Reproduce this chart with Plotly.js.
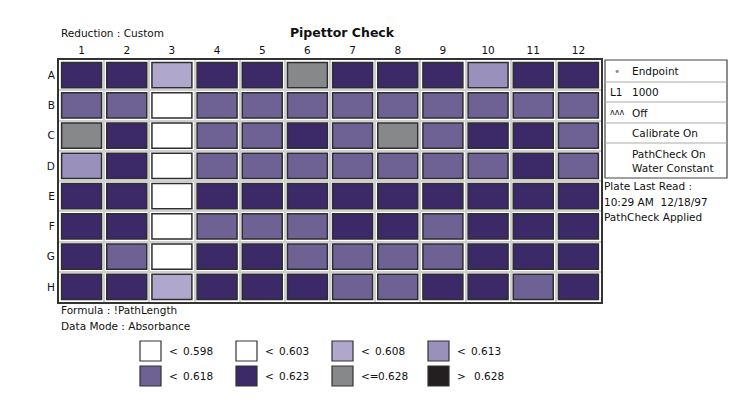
<!DOCTYPE html>
<html>
<head>
<meta charset="utf-8">
<script src="https://cdn.plot.ly/plotly-3.0.1.min.js"></script>
<style>html,body{margin:0;padding:0;background:#fff;}#chart{width:750px;height:400px;}</style>
</head>
<body>
<div id="chart"></div>
<script>
// ---- data (absorbance per well, estimated from colour bins) ----
var columns = ['1','2','3','4','5','6','7','8','9','10','11','12'];
var rows = ['A','B','C','D','E','F','G','H'];
var rowA = [0.620,0.620,0.606,0.620,0.620,0.625,0.620,0.620,0.620,0.611,0.620,0.620];
var rowB = [0.616,0.616,0.600,0.616,0.616,0.616,0.616,0.616,0.616,0.616,0.616,0.616];
var rowC = [0.625,0.620,0.600,0.616,0.616,0.620,0.616,0.625,0.616,0.620,0.620,0.616];
var rowD = [0.611,0.620,0.600,0.616,0.616,0.616,0.616,0.616,0.616,0.616,0.620,0.616];
var rowE = [0.620,0.620,0.600,0.620,0.620,0.620,0.620,0.620,0.620,0.620,0.620,0.620];
var rowF = [0.620,0.620,0.600,0.616,0.616,0.616,0.620,0.620,0.616,0.620,0.620,0.620];
var rowG = [0.620,0.616,0.600,0.620,0.620,0.616,0.616,0.616,0.616,0.620,0.620,0.620];
var rowH = [0.620,0.620,0.606,0.620,0.620,0.620,0.616,0.616,0.620,0.620,0.616,0.620];
var legendOps = ['<','<','<','<','<','<','<=','>'];
var legendVals = ['0.598','0.603','0.608','0.613','0.618','0.623','0.628','0.628'];
var thresholds = [0.598,0.603,0.608,0.613,0.618,0.623,0.628];
var binColors = ['#ffffff','#ffffff','#b0a8cc','#9a90bc','#6e6194','#3c2a68','#87888a','#231f20'];
var infoLines = ['Endpoint','1000','Off','Calibrate On','PathCheck On<br>Water Constant'];
var infoPrefix = ['•','L1','ʌʌʌ','',''];
var plateRead = ['Plate Last Read :','10:29 AM  12/18/97','PathCheck Applied'];

function colorFor(v){
  for (var i=0;i<6;i++){ if (v < thresholds[i]) return binColors[i]; }
  if (v <= thresholds[6]) return binColors[6];
  return binColors[7];
}

var W=750,H=400, ml=59, mr=149, mt=60, mb=98;
var pw=W-ml-mr, ph=H-mt-mb;
function X(px){return (px-ml)/pw;}
function Y(py){return (H-mb-py)/ph;}

var allRows=[rowA,rowB,rowC,rowD,rowE,rowF,rowG,rowH];
var colNums = columns.map(function(c,i){return i+1;});
var traces = allRows.map(function(r,ri){
  return {
    type:'bar', x:colNums, y:r.map(function(){return 0.83;}),
    base:r.map(function(){return ri+1-0.415;}),
    width:0.885,
    marker:{color:r.map(colorFor), line:{color:'#2e2e2e',width:1.5}},
    hoverinfo:'skip', showlegend:false
  };
});

var font = {family:'DejaVu Sans, Verdana, sans-serif', size:10.5, color:'#111'};
var shapes=[], ann=[];
// side info panel
var bx0=605,bx1=727, rowsY=[60,82,102,123,143,178];
shapes.push({type:'rect',xref:'paper',yref:'paper',x0:X(bx0),x1:X(bx1),y0:Y(rowsY[5]),y1:Y(rowsY[0]),line:{color:'#444',width:1.2},fillcolor:'rgba(0,0,0,0)'});
for (var i=1;i<5;i++){
  shapes.push({type:'line',xref:'paper',yref:'paper',x0:X(bx0),x1:X(bx1),y0:Y(rowsY[i]),y1:Y(rowsY[i]),line:{color:'#aaa',width:1}});
}
infoLines.forEach(function(t,i){
  var yc=(rowsY[i]+rowsY[i+1])/2;
  ann.push({xref:'paper',yref:'paper',x:X(630),y:Y(yc),text:t,showarrow:false,xanchor:'left',yanchor:'middle',align:'left',font:font});
  if (infoPrefix[i]) ann.push({xref:'paper',yref:'paper',x:X(i===0?612:608),y:Y(yc),text:infoPrefix[i],showarrow:false,xanchor:'left',yanchor:'middle',font:{family:font.family,size:i===2?8:10.5,color:i===0?'#888':'#111'}});
});
plateRead.forEach(function(t,i){
  ann.push({xref:'paper',yref:'paper',x:X(602),y:Y(186+i*15.5),text:t.replace(/  /g,'\u00a0\u00a0'),showarrow:false,xanchor:'left',yanchor:'middle',font:font});
});
// top-left and bottom texts
ann.push({xref:'paper',yref:'paper',x:X(59),y:Y(33),text:'Reduction : Custom',showarrow:false,xanchor:'left',yanchor:'middle',font:font});
ann.push({xref:'paper',yref:'paper',x:X(59),y:Y(310),text:'Formula : !PathLength',showarrow:false,xanchor:'left',yanchor:'middle',font:font});
ann.push({xref:'paper',yref:'paper',x:X(59),y:Y(326),text:'Data Mode : Absorbance',showarrow:false,xanchor:'left',yanchor:'middle',font:font});
// colour key
legendOps.forEach(function(op,i){
  var c=i%4, r=Math.floor(i/4);
  var x0=140+c*96, y0=341+r*25;
  shapes.push({type:'rect',xref:'paper',yref:'paper',x0:X(x0),x1:X(x0+21),y0:Y(y0+20),y1:Y(y0),fillcolor:binColors[i],line:{color:'#333',width:1.2}});
  ann.push({xref:'paper',yref:'paper',x:X(x0+27),y:Y(y0+10),text:op,showarrow:false,xanchor:'left',yanchor:'middle',font:font});
  var vx = op==='<=' ? x0+46 : (op==='>' ? x0+44 : x0+41);
  if (op==='<=') vx = x0+44;
  ann.push({xref:'paper',yref:'paper',x:X(vx),y:Y(y0+10),text:legendVals[i],showarrow:false,xanchor:'left',yanchor:'middle',font:font});
});

var layout = {
  width:W,height:H,
  margin:{l:ml,r:mr,t:mt,b:mb,pad:0},
  paper_bgcolor:'#fff', plot_bgcolor:'#fff',
  barmode:'overlay',
  title:{text:'<b>Pipettor Check</b>',x:342/W,xanchor:'center',y:1-33/H,yanchor:'middle',font:{family:font.family,size:12.5,color:'#111'}},
  xaxis:{range:[0.5,12.5],side:'top',tickmode:'array',tickvals:colNums,ticktext:columns,showgrid:false,zeroline:false,
    ticks:'',tickfont:font,showline:true,mirror:true,linecolor:'#333',linewidth:2,fixedrange:true,
    minor:{tick0:0.5,dtick:1,showgrid:true,gridcolor:'#cfcfcf',gridwidth:2,ticks:''}},
  yaxis:{range:[8.5,0.5],tickmode:'array',tickvals:rows.map(function(r,i){return i+1;}),ticktext:rows,showgrid:false,zeroline:false,
    ticks:'',tickfont:font,showline:true,mirror:true,linecolor:'#333',linewidth:2,fixedrange:true,
    minor:{tick0:0.5,dtick:1,showgrid:true,gridcolor:'#cfcfcf',gridwidth:2,ticks:''}},
  shapes:shapes, annotations:ann, showlegend:false
};
Plotly.newPlot('chart',traces,layout,{displayModeBar:false,staticPlot:true});
</script>
</body>
</html>
